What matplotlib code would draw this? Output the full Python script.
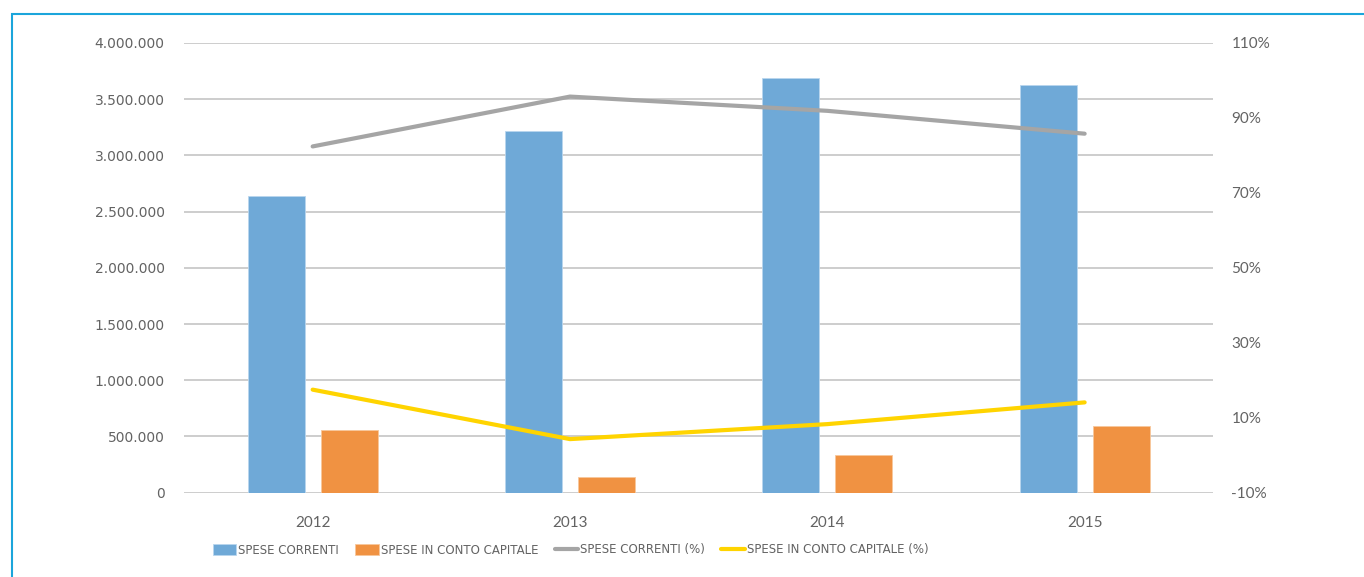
import matplotlib
matplotlib.use("Agg")
import matplotlib.pyplot as plt
import matplotlib.patches as patches
from matplotlib.ticker import FuncFormatter, MultipleLocator
import numpy as np

# dati
anni = ["2012", "2013", "2014", "2015"]
spese_correnti = [2639000, 3220000, 3686000, 3626000]
spese_capitale = [558000, 142000, 333000, 593000]
correnti_pct = [82.4, 95.7, 91.9, 85.8]
capitale_pct = [17.5, 4.3, 8.3, 14.1]
tick_pct = [-10, 10, 30, 50, 70, 90, 110]

col_blu = "#6FA9D7"
col_arancio = "#F09242"
col_grigio = "#A5A5A5"
col_giallo = "#FFD400"
col_testo = "#636363"
col_griglia = "#C9C9C9"

fig = plt.figure(figsize=(13.64, 5.77), dpi=100)
ax = fig.add_axes([184 / 1364, 1 - 492.7 / 577, (1213.3 - 184) / 1364, (492.7 - 43) / 577])

x = np.arange(len(anni))
w = 0.222
off = 0.142
ax.bar(x - off, spese_correnti, w, color=col_blu, edgecolor="#B9D6EE", linewidth=0.6,
       label="SPESE CORRENTI", zorder=2)
ax.bar(x + off, spese_capitale, w, color=col_arancio, edgecolor="#F8C79C", linewidth=0.6,
       label="SPESE IN CONTO CAPITALE", zorder=2)

ax.set_xlim(-0.5, 3.5)
ax.set_ylim(0, 4000000)
ax.yaxis.set_major_locator(MultipleLocator(500000))
ax.yaxis.set_major_formatter(FuncFormatter(lambda v, p: f"{int(v):,}".replace(",", ".")))
ax.grid(axis="y", color=col_griglia, linewidth=1.3, zorder=0)
ax.set_axisbelow(True)
ax.set_xticks(x)
ax.set_xticklabels(anni, fontfamily="Lato", fontsize=11, color=col_testo)
ax.tick_params(axis="x", length=0, pad=17)
ax.tick_params(axis="y", length=0, pad=14, labelsize=10, labelcolor=col_testo)
for s in ax.spines.values():
    s.set_visible(False)

ax2 = ax.twinx()
ax2.plot(x, correnti_pct, color=col_grigio, linewidth=3, solid_capstyle="round",
         label="SPESE CORRENTI (%)")
ax2.plot(x, capitale_pct, color=col_giallo, linewidth=3, solid_capstyle="round",
         label="SPESE IN CONTO CAPITALE (%)")
ax2.set_ylim(-10, 110)
ax2.set_yticks(tick_pct)
ax2.set_yticklabels([f"{t}%" for t in tick_pct], fontfamily="Lato", fontsize=11)
ax2.tick_params(axis="y", length=0, pad=13, labelcolor=col_testo)
for s in ax2.spines.values():
    s.set_visible(False)

h1, l1 = ax.get_legend_handles_labels()
h2, l2 = ax2.get_legend_handles_labels()
fig.legend(h1 + h2, l1 + l2, loc="center left", bbox_to_anchor=(202 / 1364, 1 - 550 / 577),
           ncol=4, frameon=False, handlelength=2.0, handleheight=1.1, handletextpad=0.15,
           columnspacing=1.4,
           prop={"family": ["Liberation Sans Narrow", "DejaVu Sans"], "size": 8.5},
           labelcolor=col_testo)

# cornice azzurra
fig.patches.append(patches.Rectangle((12 / 1364, -0.2), 1.5, 1.2 - 14 / 577,
                                     transform=fig.transFigure, fill=False,
                                     edgecolor="#1BA5DB", linewidth=1.5))

fig.savefig("out.png", dpi=100)
